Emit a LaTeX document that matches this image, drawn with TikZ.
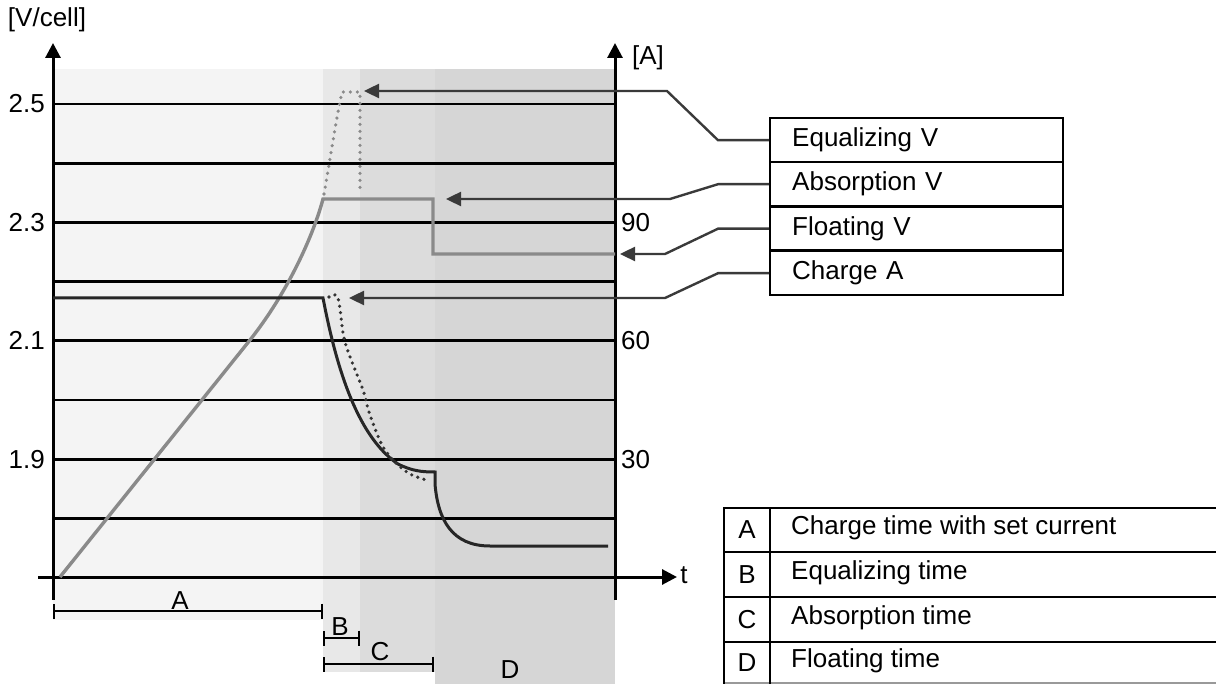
\documentclass[tikz,border=0pt]{standalone}
\usepackage{fontspec}
\setmainfont{Liberation Sans}
\usetikzlibrary{arrows.meta}
\definecolor{shA}{HTML}{F4F4F4}
\definecolor{shB}{HTML}{E8E8E8}
\definecolor{shC}{HTML}{DCDCDC}
\definecolor{shD}{HTML}{D6D6D6}
\definecolor{vgray}{HTML}{8A8A8A}
\definecolor{conngray}{HTML}{3A3A3A}
\begin{document}
\begin{tikzpicture}[x=1pt,y=-1pt,
  font=\fontsize{26}{30}\selectfont,
  grid/.style={line width=2.8pt,black},
  axis/.style={line width=3pt,black,-{Triangle[length=15pt,width=15pt]}},
  vcurve/.style={line width=3.4pt,vgray},
  vdots/.style={line width=3.6pt,vgray,line cap=round,dash pattern=on 0pt off 7pt},
  icurve/.style={line width=3pt,black!85},
  idots/.style={line width=3.6pt,black!80,line cap=round,dash pattern=on 0pt off 6.5pt},
  conn/.style={line width=2.4pt,conngray,-{Triangle[length=15pt,width=14pt]}},
  legbox/.style={draw,line width=2.4pt,anchor=north west,minimum width=293pt,minimum height=44pt,
                 inner xsep=22pt,text width=249pt,align=left},
  bar/.style={line width=2pt,black,{Bar[width=15pt,line width=2pt]}-{Bar[width=15pt,line width=2pt]}},
  tline/.style={line width=2.4pt,black},
  lbl/.style={inner sep=0pt}
]
\useasboundingbox (0,0) rectangle (1216,684);
\clip (0,0) rectangle (1216,684);
% background phases
\fill[shA] (53,69) rectangle (323,620);
\fill[shB] (323,69) rectangle (360,672);
\fill[shC] (360,69) rectangle (435,672);
\fill[shD] (435,69) rectangle (615,684);
% grid
\foreach \yy in {104,163.2,222.4,281.6,340.8,400,459.2,518.4}
  \draw[grid] (53,\yy) -- (615,\yy);
% axes
\draw[axis] (53,600) -- (53,43);
\draw[axis] (615,600) -- (615,43);
\draw[axis] (38,577) -- (677,577);
% axis labels
\node[lbl] (vcell) at (47,20) {[V/cell]};
\node[lbl] (amp) at (648,58) {[A]};
\node[lbl] (tlab) at (684,575) {t};
\node[lbl,anchor=east] (v25) at (45,104) {2.5};
\node[lbl,anchor=east] (v23) at (45,222.4) {2.3};
\node[lbl,anchor=east] (v21) at (45,340.8) {2.1};
\node[lbl,anchor=east] (v19) at (45,459.2) {1.9};
\node[lbl,anchor=west] (a90) at (621,222.4) {90};
\node[lbl,anchor=west] (a60) at (621,340.8) {60};
\node[lbl,anchor=west] (a30) at (621,459.2) {30};
% voltage curve
\draw[vcurve] (60,577) -- (250,340) .. controls (285,296) and (312,240) .. (323,199)
   -- (433,199) -- (433,254) -- (615,254);
% equalizing dotted
\draw[vdots] (324,194) .. controls (330,160) and (336,120) .. (342,92) -- (360,92) -- (360,194);
% current solid
\draw[icurve] (53,298) -- (323,298) .. controls (335,360) and (355,435) .. (398,464)
   .. controls (412,471) and (422,472) .. (435,472) -- (435,484)
   .. controls (438,520) and (452,546) .. (490,546) -- (608,546);
% current dotted
\draw[idots] plot[smooth,tension=0.55] coordinates {(329,297) (338,298) (345,342) (363,390) (369,412) (381,443) (393,460) (410,474) (430,481)};
% legend boxes
\node[legbox] (eqV) at (769,117) {Equalizing V};
\node[legbox] (absV) at (769,161) {Absorption V};
\node[legbox] (floV) at (769,205.5) {Floating V};
\node[legbox] (chA) at (769,250) {Charge A};
% arrow tips
\coordinate (eqtip) at (364,91);
\coordinate (abstip) at (446,199);
\coordinate (flotip) at (620,254);
\coordinate (chtip) at (349,298);
\draw[conn] (eqV.west) -- ++(-51,0) -- (667,91) -- (eqtip);
\draw[conn] (absV.west) -- ++(-51,0) -- (670,199) -- (abstip);
\draw[conn] (floV.west) -- ++(-51,0) -- (665,254) -- (flotip);
\draw[conn] (chA.west) -- ++(-51,0) -- (665,298) -- (chtip);
% interval bars
\draw[bar] (53,611) -- (323,611);
\node[lbl] (iA) at (180,601) {A};
\draw[bar] (323,638) -- (360,638);
\node[lbl] (iB) at (340,627) {B};
\draw[bar] (323,664) -- (434,664);
\node[lbl] (iC) at (380,652) {C};
\draw[bar] (435,692) -- (615,692);
\node[lbl] (iD) at (510,670) {D};
% table
\foreach \yy in {508,552,597,642}
  \draw[tline] (723,\yy) -- (1216,\yy);
\draw[line width=1.5pt,black!40] (723,683) -- (1216,683);
\draw[tline] (724,508) -- (724,684);
\draw[tline] (770,508) -- (770,684);
\node[lbl] (tA) at (747,530) {A};
\node[lbl] (tB) at (747,574.5) {B};
\node[lbl] (tC) at (747,619.5) {C};
\node[lbl] (tD) at (747,663) {D};
\node[lbl,anchor=west] (dA) at (791,528) {Charge time with set current};
\node[lbl,anchor=west] (dB) at (791,572.5) {Equalizing time};
\node[lbl,anchor=west] (dC) at (791,617.5) {Absorption time};
\node[lbl,anchor=west] (dD) at (791,661) {Floating time};
\end{tikzpicture}
\end{document}
